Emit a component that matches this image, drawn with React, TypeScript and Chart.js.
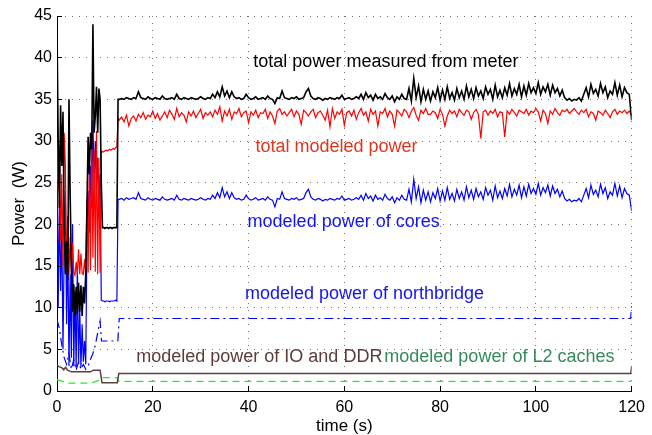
import React, { useEffect, useRef } from "react";
import { Chart, registerables } from "chart.js";

Chart.register(...registerables);

// ---------- data ----------
const xTickValues = [0, 20, 40, 60, 80, 100, 120];
const yTickValues = [0, 5, 10, 15, 20, 25, 30, 35, 40, 45];

const seriesLabels = [
  "total power measured from meter",
  "total modeled power",
  "modeled power of cores",
  "modeled power of northbridge",
  "modeled power of IO and DDR",
  "modeled power of L2 caches",
];

// early transient section: samples every 0.25 s from 0 to 12.75 s
const earlyStep = 0.25;
const measuredEarly = [
  43.5, 30, 22, 34.3, 27, 33.5, 20, 14, 18, 13.3,
  35, 23.5, 15, 9.5, 12.8, 9, 12.5, 9.2, 13, 9.5,
  12.7, 9, 12.5, 10.5, 14, 22, 30.5, 26, 31, 29,
  44, 31, 33, 36.5, 31, 36.3, 35, 25, 19.6, 19.6,
  19.5, 19.6, 19.6, 19.5, 19.6, 19.6, 19.5, 19.6, 19.6, 19.6,
  19.6, 35,
];
const modeledEarly = [
  30.7, 24, 29.5, 18, 26, 15, 31, 27, 14.5, 21,
  14, 18.5, 14, 17.8, 14.2, 13.9, 15.5, 14, 17, 14,
  16.5, 14.1, 14, 15.8, 14, 23, 14.2, 28, 14.5, 31,
  16, 29, 14.3, 31.2, 14, 28, 14.2, 28.8, 28.7, 28.7,
  28.8, 28.9, 28.8, 28.9, 29, 28.9, 29, 29.1, 29, 29.2,
  29.3, 32.8,
];
const coresEarly = [
  28, 10, 23, 12, 20, 5, 17, 24, 8, 18,
  3, 14, 4, 20, 3, 12, 2.8, 15, 3.2, 10,
  2.8, 8, 3.5, 6, 3.2, 18, 24, 19, 27, 22,
  32.5, 25, 30, 24, 28, 23, 26, 10.9, 10.8, 10.8,
  10.7, 10.8, 10.8, 10.8, 10.7, 10.8, 10.8, 10.8, 10.8, 10.9,
  10.8, 23,
];

// steady section: samples every 0.5 s from 13 to 120 s
const mainStart = 13;
const mainStep = 0.5;
const measuredMain = [
  35.0, 35.1, 35.0, 35.2, 35.1, 35.0, 35.2, 35.1, 35.9, 35.2,
  35.1, 35.0, 35.3, 35.1, 35.0, 35.2, 35.1, 35.0, 35.4, 35.1,
  35.0, 35.1, 35.2, 35.0, 35.6, 35.1, 35.0, 35.2, 35.1, 35.0,
  35.2, 35.1, 35.0, 35.1, 35.3, 35.1, 35.0, 35.2, 35.1, 35.6,
  35.2, 35.9, 35.3, 36.5, 35.4, 36.0, 35.2, 35.9, 35.3, 35.1,
  35.2, 35.0, 35.1, 35.6, 35.2, 35.0, 35.1, 35.3, 35.0, 35.1,
  35.2, 35.0, 35.4, 35.1, 35.0, 34.5, 35.2, 35.1, 36.0, 35.2,
  35.1, 35.0, 35.2, 35.1, 35.3, 35.0, 35.1, 35.2, 35.9, 36.3,
  35.4, 35.1, 35.0, 35.2, 35.1, 34.9, 35.1, 35.0, 35.2, 35.1,
  35.0, 35.2, 35.1, 35.5, 35.0, 35.1, 35.2, 35.0, 35.1, 35.3,
  35.1, 35.6, 35.0, 35.8, 35.2, 35.5, 34.9, 35.6, 35.1, 35.3,
  35.0, 35.7, 35.2, 35.0, 35.4, 34.7, 35.3, 35.0, 35.6, 35.1,
  35.0, 36.3, 34.8, 37.5, 35.2, 36.6, 34.7, 36.2, 35.0, 36.0,
  34.8, 35.9, 35.2, 36.4, 34.9, 36.1, 35.0, 36.5, 35.1, 35.8,
  34.9, 36.3, 35.2, 36.0, 35.0, 36.6, 35.3, 36.2, 35.1, 36.4,
  35.4, 36.0, 35.1, 36.5, 35.6, 36.2, 35.0, 36.7, 35.3, 36.1,
  35.2, 36.4, 35.5, 36.9, 35.4, 36.3, 35.6, 36.8, 35.3, 36.6,
  35.5, 36.9, 35.8, 36.4, 35.7, 37.0, 35.6, 36.5, 35.9, 36.8,
  35.5, 36.7, 35.8, 36.3, 35.4, 36.1, 35.2, 34.9, 35.1, 34.8,
  35.0, 34.9, 35.2, 34.8, 35.6, 36.4, 35.3, 36.8, 35.7, 36.2,
  35.4, 36.9, 35.8, 36.5, 35.2, 36.0, 35.6, 37.0, 35.5, 36.7,
  35.3, 36.4, 35.8, 35.6, 32.5,
];
const modeledMain = [
  32.5, 32.9, 32.3, 33.1, 31.8, 32.7, 33.0, 32.4, 33.2, 32.8,
  33.4, 32.6, 33.1, 32.9, 33.6, 32.7, 33.3, 32.5, 33.0, 33.5,
  32.8, 33.7, 33.2, 32.6, 33.9, 32.9, 33.4, 33.1, 32.3, 33.5,
  33.0, 33.6, 32.8, 33.3, 33.8, 32.7, 33.4, 33.1, 33.5, 32.9,
  33.7, 33.2, 34.1, 32.4, 33.6, 33.0, 33.8, 32.6, 33.5, 33.3,
  33.9, 32.9, 33.4, 33.6, 32.2, 33.5, 33.1, 33.7, 32.8, 33.4,
  33.3, 33.8, 32.7, 33.5, 33.0, 32.1, 33.6, 33.9, 33.2, 33.5,
  33.0, 33.4, 33.8, 32.9, 33.6, 33.2, 32.0, 33.7, 33.4, 33.0,
  33.5, 33.8, 32.8, 33.4, 33.6, 33.1, 32.5, 33.7, 31.7, 33.9,
  32.7, 33.5, 33.2, 33.8, 31.9, 33.4, 33.6, 33.0, 33.7, 32.6,
  33.4, 33.9, 33.1, 33.5, 32.4, 33.8, 33.2, 33.6, 31.8, 33.5,
  33.3, 33.9, 32.9, 33.6, 33.2, 31.8, 33.7, 33.4, 33.0, 33.8,
  33.5, 32.8, 33.6, 34.0, 33.1, 32.5, 33.7, 33.3, 33.9, 33.2,
  33.2, 33.6, 33.4, 32.7, 33.8, 33.2, 31.8, 33.0, 33.7, 33.3,
  33.6, 32.9, 33.8, 33.4, 33.1, 33.7, 33.5, 32.6, 33.4, 33.8,
  33.2, 30.3, 33.5, 33.7, 33.1, 33.6, 33.3, 33.8, 32.9, 33.5,
  33.4, 30.5, 33.6, 33.2, 33.8, 33.4, 33.0, 33.7, 33.5, 33.3,
  33.8, 33.1, 33.6, 33.4, 33.9, 33.5, 32.4, 33.7, 33.3, 32.1,
  33.6, 33.2, 33.9, 33.4, 33.1, 33.7, 33.5, 33.8, 33.3, 33.6,
  33.9, 33.5, 33.2, 33.7, 33.4, 33.8, 32.9, 33.5, 33.3, 32.5,
  33.6, 33.4, 33.1, 33.7, 33.3, 32.8, 33.5, 33.8, 33.2, 33.6,
  33.4, 33.7, 33.3, 33.6, 33.1,
];
const coresMain = [
  23.0, 23.1, 22.9, 23.2, 23.0, 23.1, 23.2, 23.0, 23.8, 23.1,
  23.0, 22.9, 23.2, 23.0, 22.9, 23.1, 23.0, 22.9, 23.3, 23.0,
  22.9, 23.0, 23.1, 22.9, 23.5, 23.0, 22.9, 23.1, 23.0, 22.9,
  23.1, 23.0, 22.9, 23.0, 23.2, 23.0, 22.9, 23.1, 23.0, 23.5,
  23.1, 23.8, 23.2, 24.4, 23.3, 23.9, 23.1, 23.8, 23.2, 23.0,
  23.1, 22.9, 23.0, 23.5, 23.1, 22.9, 23.0, 23.2, 22.9, 23.0,
  23.1, 22.9, 23.3, 23.0, 22.9, 22.1, 23.1, 23.0, 23.9, 23.1,
  23.0, 22.9, 23.1, 23.0, 23.2, 22.9, 23.0, 23.1, 23.8, 24.2,
  23.3, 23.0, 22.9, 23.1, 23.0, 22.8, 23.0, 22.9, 23.1, 23.0,
  22.9, 23.1, 23.0, 23.4, 22.9, 23.0, 23.1, 22.9, 23.0, 23.2,
  23.0, 23.5, 22.9, 23.7, 23.1, 23.4, 22.8, 23.5, 23.0, 23.2,
  22.9, 23.6, 23.1, 22.9, 23.3, 22.6, 23.2, 22.9, 23.5, 23.0,
  22.9, 24.2, 22.7, 25.4, 23.1, 24.5, 22.6, 24.1, 22.9, 23.9,
  22.7, 23.8, 23.1, 24.3, 22.8, 24.0, 22.9, 24.4, 23.0, 23.7,
  22.8, 24.2, 23.1, 23.9, 22.9, 24.5, 23.2, 24.1, 23.0, 24.3,
  23.3, 23.9, 23.0, 24.4, 23.5, 24.1, 22.9, 24.6, 23.2, 24.0,
  23.1, 24.3, 23.4, 24.8, 23.3, 24.2, 23.5, 24.7, 23.2, 24.5,
  23.4, 24.8, 23.7, 24.3, 23.6, 24.9, 23.5, 24.4, 23.8, 24.7,
  23.4, 24.6, 23.7, 24.2, 23.3, 24.0, 23.1, 22.8, 23.0, 22.7,
  22.9, 22.8, 23.1, 22.7, 23.5, 24.3, 23.2, 24.7, 23.6, 24.1,
  23.3, 24.8, 23.7, 24.4, 23.1, 23.9, 23.5, 24.9, 23.4, 24.6,
  23.2, 24.3, 23.7, 23.5, 21.6,
];

// slowly varying components: (time, value) breakpoints
const northbridgeTimes = [0, 0.5, 1, 1.5, 2, 2.5, 3, 3.5, 4, 4.5, 5, 5.5, 6, 6.5, 7, 7.5, 8, 8.5, 9, 9.3, 12.7, 13, 119.8, 120];
const northbridgeValues = [8.6, 7.5, 5.5, 4.0, 3.2, 4.5, 2.6, 3.8, 2.5, 3.5, 2.6, 3.2, 2.6, 3.0, 3.8, 4.5, 5.5, 7.0, 8.4, 6.0, 6.0, 8.7, 8.7, 10.2];
const ioTimes = [0, 0.5, 1, 1.4, 1.8, 2.2, 3, 7, 7.6, 9.0, 9.4, 12.6, 12.9, 119.8, 120];
const ioValues = [3.1, 2.9, 2.8, 2.55, 2.85, 2.5, 2.3, 2.3, 2.5, 2.5, 1.0, 1.0, 2.1, 2.1, 2.9];
const l2Times = [0, 1, 2, 6.5, 7.5, 9.0, 9.4, 12.5, 12.9, 120];
const l2Values = [1.35, 1.2, 0.95, 0.95, 1.05, 1.3, 1.6, 1.6, 1.15, 1.15];

// ---------- helpers ----------
const FONT = "'Liberation Sans', Arial, Helvetica, sans-serif";

function sampled(early: number[], main: number[]) {
  const pts = early.map((v, i) => ({ x: i * earlyStep, y: v }));
  main.forEach((v, i) => pts.push({ x: mainStart + i * mainStep, y: v }));
  return pts;
}
function pairs(ts: number[], vs: number[]) {
  return ts.map((t, i) => ({ x: t, y: vs[i] }));
}

const annotations = [
  { text: seriesLabels[0], t: 41.0, v: 39.5, color: "#000000" },
  { text: seriesLabels[1], t: 41.45, v: 29.3, color: "#e2341d" },
  { text: seriesLabels[2], t: 39.8, v: 20.3, color: "#1414f0" },
  { text: seriesLabels[3], t: 39.25, v: 11.6, color: "#1414f0" },
  { text: seriesLabels[4], t: 16.55, v: 4.12, color: "#5c3c3a" },
  { text: seriesLabels[5], t: 68.35, v: 4.12, color: "#358a5c" },
];

const decorPlugin = {
  id: "decor",
  afterDatasetsDraw(chart: any) {
    const { ctx, chartArea, scales } = chart;
    const xs = scales.x;
    const ys = scales.y;
    ctx.save();
    // inward tick marks (MATLAB style)
    ctx.strokeStyle = "#000";
    ctx.lineWidth = 1;
    ctx.beginPath();
    for (const t of xTickValues) {
      const px = Math.round(xs.getPixelForValue(t) + 0.5) - 0.5;
      ctx.moveTo(px, chartArea.bottom);
      ctx.lineTo(px, chartArea.bottom - 5);
    }
    for (const v of yTickValues) {
      const py = Math.round(ys.getPixelForValue(v) + 0.5) - 0.5;
      ctx.moveTo(chartArea.left, py);
      ctx.lineTo(chartArea.left + 5, py);
    }
    ctx.stroke();
    // in-plot labels
    ctx.font = `18px ${FONT}`;
    ctx.textBaseline = "middle";
    ctx.textAlign = "left";
    for (const a of annotations) {
      ctx.fillStyle = a.color;
      ctx.fillText(a.text, xs.getPixelForValue(a.t), ys.getPixelForValue(a.v));
    }
    ctx.restore();
  },
};

export default function App() {
  const canvasRef = useRef<HTMLCanvasElement | null>(null);

  useEffect(() => {
    const canvas = canvasRef.current;
    if (!canvas) return;
    const common = { pointRadius: 0, tension: 0, fill: false };
    const chart = new Chart(canvas, {
      type: "line",
      data: {
        datasets: [
          { ...common, label: seriesLabels[0], data: sampled(measuredEarly, measuredMain), borderColor: "#000000", borderWidth: 1.6, order: 0 },
          { ...common, label: seriesLabels[1], data: sampled(modeledEarly, modeledMain), borderColor: "#ff0000", borderWidth: 1.2, order: 1 },
          { ...common, label: seriesLabels[2], data: sampled(coresEarly, coresMain), borderColor: "#0000ff", borderWidth: 1.2, order: 2 },
          { ...common, label: seriesLabels[3], data: pairs(northbridgeTimes, northbridgeValues), borderColor: "#0000ff", borderWidth: 1.2, borderDash: [9, 4, 2, 4], order: 3 },
          { ...common, label: seriesLabels[4], data: pairs(ioTimes, ioValues), borderColor: "#5e4040", borderWidth: 1.5, order: 4 },
          { ...common, label: seriesLabels[5], data: pairs(l2Times, l2Values), borderColor: "#22ee22", borderWidth: 1.3, borderDash: [7, 5], order: 5 },
        ] as any,
      },
      options: {
        animation: false,
        responsive: false,
        events: [],
        layout: { padding: { left: 0, right: 15, top: 16, bottom: 0 } },
        plugins: { legend: { display: false }, tooltip: { enabled: false }, title: { display: false } },
        scales: {
          x: {
            type: "linear",
            min: 0,
            max: 120,
            afterFit: (s: any) => { s.height = 44; },
            afterBuildTicks: (s: any) => { s.ticks = xTickValues.map((v) => ({ value: v })); },
            ticks: { color: "#000", font: { family: FONT, size: 16 }, padding: 7, maxRotation: 0, autoSkip: false },
            grid: { color: "rgba(0,0,0,0.55)", lineWidth: 1, drawTicks: false, tickBorderDash: [1, 6] } as any,
            border: { display: true, color: "#000", width: 1, dash: [1, 6] } as any,
            title: { display: true, text: "time (s)", color: "#000", font: { family: FONT, size: 17, lineHeight: 1 }, padding: { top: 0, bottom: 0 } },
          },
          y: {
            type: "linear",
            min: 0,
            max: 45,
            afterFit: (s: any) => { s.width = 57; },
            afterBuildTicks: (s: any) => { s.ticks = yTickValues.map((v) => ({ value: v })); },
            ticks: { color: "#000", font: { family: FONT, size: 16 }, padding: 5, autoSkip: false },
            grid: { color: "rgba(0,0,0,0.55)", lineWidth: 1, drawTicks: false } as any,
            border: { display: true, color: "#000", width: 1, dash: [1, 6] } as any,
            title: { display: true, text: "Power  (W)", color: "#000", font: { family: FONT, size: 17, lineHeight: 1 }, padding: { top: 11, bottom: 0 } },
          },
        },
      } as any,
      plugins: [decorPlugin],
    });
    return () => chart.destroy();
  }, []);

  return (
    <div style={{ position: "fixed", left: 0, top: 0, width: 652, height: 435, background: "#fff" }}>
      <canvas ref={canvasRef} width={652} height={435} style={{ display: "block", width: 652, height: 435 }} />
    </div>
  );
}
